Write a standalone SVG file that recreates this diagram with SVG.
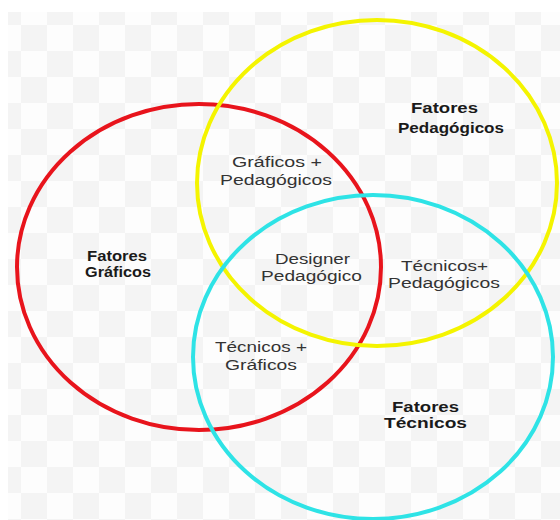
<svg xmlns="http://www.w3.org/2000/svg" width="560" height="520" viewBox="0 0 560 520">
  <defs>
    <!-- faint checkered backdrop -->
    <pattern id="checker" x="-5" y="-1" width="52" height="52" patternUnits="userSpaceOnUse">
      <rect width="52" height="52" fill="#fdfdfd"/>
      <rect x="0" y="0" width="26" height="26" fill="#f4f4f4"/>
      <rect x="26" y="26" width="26" height="26" fill="#f4f4f4"/>
    </pattern>
    <style>
      .ring { fill: none; stroke-width: 4; }
      .lbl { font-family: "Liberation Sans", Arial, sans-serif; font-size: 15.5px; fill: #333333; }
      .head { font-family: "Liberation Sans", Arial, sans-serif; font-size: 15.5px; font-weight: bold; fill: #1a1a1a; }
    </style>
  </defs>

  <rect width="560" height="520" fill="#ffffff"/>
  <rect x="8" y="12" width="552" height="508" fill="url(#checker)"/>

  <!-- three overlapping sets -->
  <g id="graficos">
    <ellipse class="ring" cx="199" cy="267" rx="182" ry="163" stroke="#e8141c"/>
    <text class="head" style="font-size:14.5px" x="87" y="261" textLength="60" lengthAdjust="spacingAndGlyphs">Fatores</text>
    <text class="head" style="font-size:14.5px" x="85" y="277" textLength="66" lengthAdjust="spacingAndGlyphs">Gráficos</text>
  </g>

  <g id="pedagogicos">
    <ellipse class="ring" cx="377" cy="183" rx="180" ry="163" stroke="#f4f400"/>
    <text class="head" x="411" y="113" textLength="67" lengthAdjust="spacingAndGlyphs">Fatores</text>
    <text class="head" x="398" y="133" textLength="106" lengthAdjust="spacingAndGlyphs">Pedagógicos</text>
  </g>

  <g id="tecnicos">
    <ellipse class="ring" cx="373" cy="357" rx="180" ry="162" stroke="#2ee3e6"/>
    <text class="head" x="392" y="412" textLength="67" lengthAdjust="spacingAndGlyphs">Fatores</text>
    <text class="head" x="384" y="428" textLength="83" lengthAdjust="spacingAndGlyphs">Técnicos</text>
  </g>

  <!-- overlap labels -->
  <g id="graficos-pedagogicos">
    <text class="lbl" x="232" y="167" textLength="90" lengthAdjust="spacingAndGlyphs">Gráficos +</text>
    <text class="lbl" x="220" y="185" textLength="112" lengthAdjust="spacingAndGlyphs">Pedagógicos</text>
  </g>

  <g id="designer-pedagogico">
    <text class="lbl" x="275" y="264" textLength="75" lengthAdjust="spacingAndGlyphs">Designer</text>
    <text class="lbl" x="261" y="281" textLength="101" lengthAdjust="spacingAndGlyphs">Pedagógico</text>
  </g>

  <g id="tecnicos-pedagogicos">
    <text class="lbl" x="401" y="271" textLength="87" lengthAdjust="spacingAndGlyphs">Técnicos+</text>
    <text class="lbl" x="388" y="288" textLength="112" lengthAdjust="spacingAndGlyphs">Pedagógicos</text>
  </g>

  <g id="tecnicos-graficos">
    <text class="lbl" x="215" y="352" textLength="92" lengthAdjust="spacingAndGlyphs">Técnicos +</text>
    <text class="lbl" x="225" y="370" textLength="72" lengthAdjust="spacingAndGlyphs">Gráficos</text>
  </g>

  <g id="connectors"/>
</svg>
